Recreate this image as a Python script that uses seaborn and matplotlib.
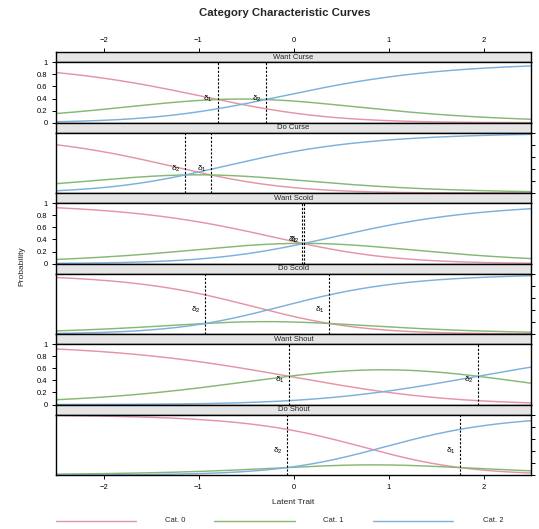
import numpy as np
import pandas as pd
import matplotlib
matplotlib.use("Agg")
import matplotlib.pyplot as plt
from matplotlib.lines import Line2D
import seaborn as sns

# Items and their partial-credit threshold locations
items = ["Want Curse", "Do Curse", "Want Scold", "Do Scold", "Want Shout", "Do Shout"]
delta1 = [-0.80, -0.87, 0.09, 0.376, -0.05, 1.75]
delta2 = [-0.29, -1.14, 0.115, -0.93, 1.94, -0.066]
categories = ["Cat. 0", "Cat. 1", "Cat. 2"]
colors = ["#E495A5", "#86B875", "#7DB0DD"]
x_ticks = [-2, -1, 0, 1, 2]
x_ticklabels = ["\u22122", "\u22121", "0", "1", "2"]
y_ticks = [0, 0.2, 0.4, 0.6, 0.8, 1]
y_ticklabels = ["0", "0.2", "0.4", "0.6", "0.8", "1"]

theta = np.linspace(-2.5, 2.5, 401)


def category_probs(d1, d2):
    """Partial credit model category probabilities for a 3-category item."""
    num = np.vstack([np.zeros_like(theta), theta - d1, 2 * theta - d1 - d2])
    e = np.exp(num)
    return e / e.sum(axis=0)


frames = []
for item, d1, d2 in zip(items, delta1, delta2):
    p = category_probs(d1, d2)
    for k, cat in enumerate(categories):
        frames.append(pd.DataFrame({"Item": item, "Category": cat,
                                    "theta": theta, "Probability": p[k]}))
df = pd.concat(frames, ignore_index=True)

sns.set_style("white")
plt.rcParams["font.family"] = ["Liberation Sans", "DejaVu Sans"]
plt.rcParams["axes.linewidth"] = 1.0

W, H = 539, 529
fig = plt.figure(figsize=(W / 100, H / 100), dpi=100)


def rect(x0, y_top, w, h):
    return [x0 / W, 1 - (y_top + h) / H, w / W, h / H]


left, right = 56, 531
top0, block, strip_h = 52.3, 70.45, 10.0
pw = right - left
tick_kw = dict(direction="out", length=3.2, width=0.7, labelsize=5.5, pad=3,
               colors="black")

for i, item in enumerate(items):
    ytop = top0 + i * block
    # strip
    sax = fig.add_axes(rect(left, ytop, pw, strip_h))
    sax.set_facecolor("#E5E5E5")
    sax.set_xlim(-2.5, 2.5)
    sax.set_ylim(0, 1)
    sax.set_yticks([])
    sax.text(0.5, 0.5, item, transform=sax.transAxes, ha="center", va="center",
             fontsize=5.5)
    for s in sax.spines.values():
        s.set_color("black")
        s.set_linewidth(1.0)
    if i == 0:
        sax.xaxis.tick_top()
        sax.set_xticks(x_ticks)
        sax.set_xticklabels(x_ticklabels)
        sax.tick_params(axis="x", **tick_kw)
    else:
        sax.set_xticks([])

    # panel
    ax = fig.add_axes(rect(left, ytop + strip_h, pw, block - strip_h))
    sub = df[df["Item"] == item]
    sns.lineplot(data=sub, x="theta", y="Probability", hue="Category",
                 hue_order=categories, palette=colors, linewidth=1.05,
                 legend=False, ax=ax)
    ax.set_xlim(-2.5, 2.5)
    ax.set_ylim(0, 1)
    ax.set_xlabel("")
    ax.set_ylabel("")
    for s in ax.spines.values():
        s.set_color("black")
        s.set_linewidth(1.0)

    for lab, d in ((r"$\mathregular{\delta_1}$", delta1[i]),
                   (r"$\mathregular{\delta_2}$", delta2[i])):
        ax.axvline(d, color="black", linewidth=0.8, linestyle=(0, (2, 1.5)))
        ax.text(d - 0.045, 0.4, lab, ha="right", va="center", fontsize=6,
                color="black")

    ax.set_yticks(y_ticks)
    if i % 2 == 0:
        ax.set_yticklabels(y_ticklabels)
        ax.tick_params(axis="y", left=True, right=False, labelleft=True, **tick_kw)
    else:
        ax.yaxis.tick_right()
        ax.tick_params(axis="y", left=False, right=True, labelright=False, **tick_kw)

    if i == len(items) - 1:
        ax.set_xticks(x_ticks)
        ax.set_xticklabels(x_ticklabels)
        ax.tick_params(axis="x", bottom=True, **tick_kw)
    else:
        ax.set_xticks([])

fig.text(285 / W, 1 - 12.5 / H, "Category Characteristic Curves", ha="center",
         va="center", fontsize=8.2, fontweight="bold")
fig.text(22 / W, 1 - 266 / H, "Probability", rotation=90, ha="center",
         va="center", fontsize=6)
fig.text(293.5 / W, 1 - 502.7 / H, "Latent Trait", ha="center", va="center",
         fontsize=6)

# key below the panels
legend_y = 1 - 521 / H
segments = [(55.7, 135.7, 175), (214, 295, 333), (373, 453, 493)]
for (x0, x1, xt), cat, col in zip(segments, categories, colors):
    fig.add_artist(Line2D([x0 / W, x1 / W], [legend_y, legend_y], color=col,
                          linewidth=1.0, transform=fig.transFigure))
    fig.text(xt / W, legend_y, cat, ha="center", va="center", fontsize=5.5)

fig.savefig("out.png", dpi=100)
